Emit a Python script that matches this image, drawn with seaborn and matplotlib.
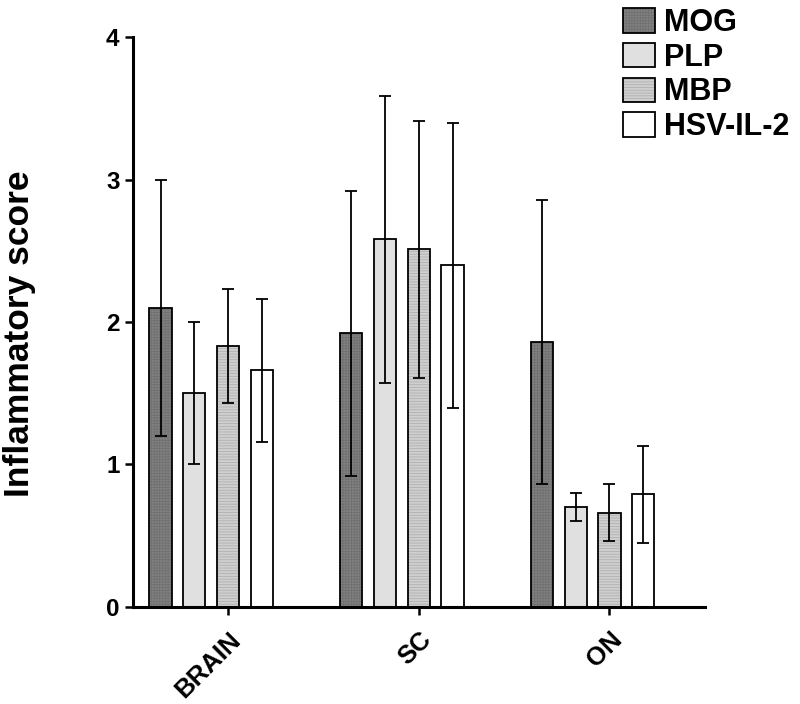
import matplotlib
matplotlib.use('Agg')
import matplotlib.pyplot as plt
import matplotlib.colors as mcolors
from matplotlib.patches import Patch
import pandas as pd
import seaborn as sns

regions = ['BRAIN', 'SC', 'ON']
antigens = ['MOG', 'PLP', 'MBP', 'HSV-IL-2']
means = {
    'MOG': [2.10, 1.92, 1.86],
    'PLP': [1.50, 2.58, 0.70],
    'MBP': [1.83, 2.51, 0.66],
    'HSV-IL-2': [1.66, 2.40, 0.79],
}
errors = {
    'MOG': [0.90, 1.00, 1.00],
    'PLP': [0.50, 1.01, 0.10],
    'MBP': [0.40, 0.90, 0.20],
    'HSV-IL-2': [0.50, 1.00, 0.34],
}
colors = ['#828282', '#e0e0e0', '#cfcfcf', '#ffffff']
hatches = ['++++++', '', '------', '']
hatch_colors = ['#707070', None, '#b0b0b0', None]

rows = []
for a in antigens:
    for r, m, e in zip(regions, means[a], errors[a]):
        rows.append({'region': r, 'antigen': a, 'score': m, 'err': e})
df = pd.DataFrame(rows)

sns.set_style('white')
plt.rcParams['font.family'] = ['Liberation Sans', 'DejaVu Sans']
plt.rcParams['font.weight'] = 'bold'
plt.rcParams['text.color'] = 'black'
plt.rcParams['axes.labelcolor'] = 'black'
plt.rcParams['xtick.color'] = 'black'
plt.rcParams['ytick.color'] = 'black'
plt.rcParams['hatch.linewidth'] = 0.6

fig = plt.figure(figsize=(8, 7.04), dpi=100)
ax = fig.add_axes([0.166, 0.138, 0.715, 0.809])

sns.barplot(data=df, x='region', y='score', hue='antigen', hue_order=antigens,
            palette=colors, width=0.709, gap=0.34, edgecolor='black',
            linewidth=1.3, errorbar=None, legend=False, ax=ax)

for i, (a, cont) in enumerate(zip(antigens, ax.containers)):
    xs = [b.get_x() + b.get_width() / 2 for b in cont]
    for b in cont:
        if hatches[i]:
            b.set_hatch(hatches[i])
            b._hatch_color = mcolors.to_rgba(hatch_colors[i])
    ax.errorbar(xs, means[a], yerr=errors[a], fmt='none', ecolor='black',
                elinewidth=1.3, capsize=4.3, capthick=1.3, zorder=5)

# ticks sit under the third bar of each group, as in the original
off = 0.709 / 8
ax.set_xticks([i + off for i in range(len(regions))])
ax.set_xticklabels(regions, rotation=45, ha='right', rotation_mode='anchor',
                   fontsize=18.5, fontweight='bold', color='black')
ax.set_xlim(-0.5 + off, 2.5 + off)
ax.set_ylim(0, 4)
ax.set_yticks([0, 1, 2, 3, 4])
ax.set_yticklabels(['0', '1', '2', '3', '4'], fontsize=17.5, fontweight='bold',
                   color='black')
ax.set_xlabel('')
ax.set_ylabel('Inflammatory score', fontsize=25.5, fontweight='bold',
              color='black')
ax.yaxis.set_label_coords(-0.17, 0.48)

sns.despine(ax=ax)
for s in ['left', 'bottom']:
    ax.spines[s].set_linewidth(2.2)
    ax.spines[s].set_color('black')
ax.tick_params(axis='both', direction='out', length=6, width=1.8, colors='black',
               left=True, bottom=True)
ax.tick_params(axis='x', pad=9)

handles = []
for i, a in enumerate(antigens):
    h = Patch(facecolor=colors[i], edgecolor='black', linewidth=1.3,
              hatch=hatches[i] if hatches[i] else None, label=a)
    if hatches[i]:
        h._hatch_color = mcolors.to_rgba(hatch_colors[i])
    handles.append(h)
leg = fig.legend(handles=handles, loc='upper left', bbox_to_anchor=(0.771, 0.997),
                 frameon=False, prop={'weight': 'bold', 'size': 22},
                 handlelength=1.05, handleheight=0.85, handletextpad=0.3,
                 labelspacing=0.15, borderaxespad=0, borderpad=0.2)
for t in leg.get_texts():
    t.set_color('black')

fig.savefig('out.png', dpi=100)
